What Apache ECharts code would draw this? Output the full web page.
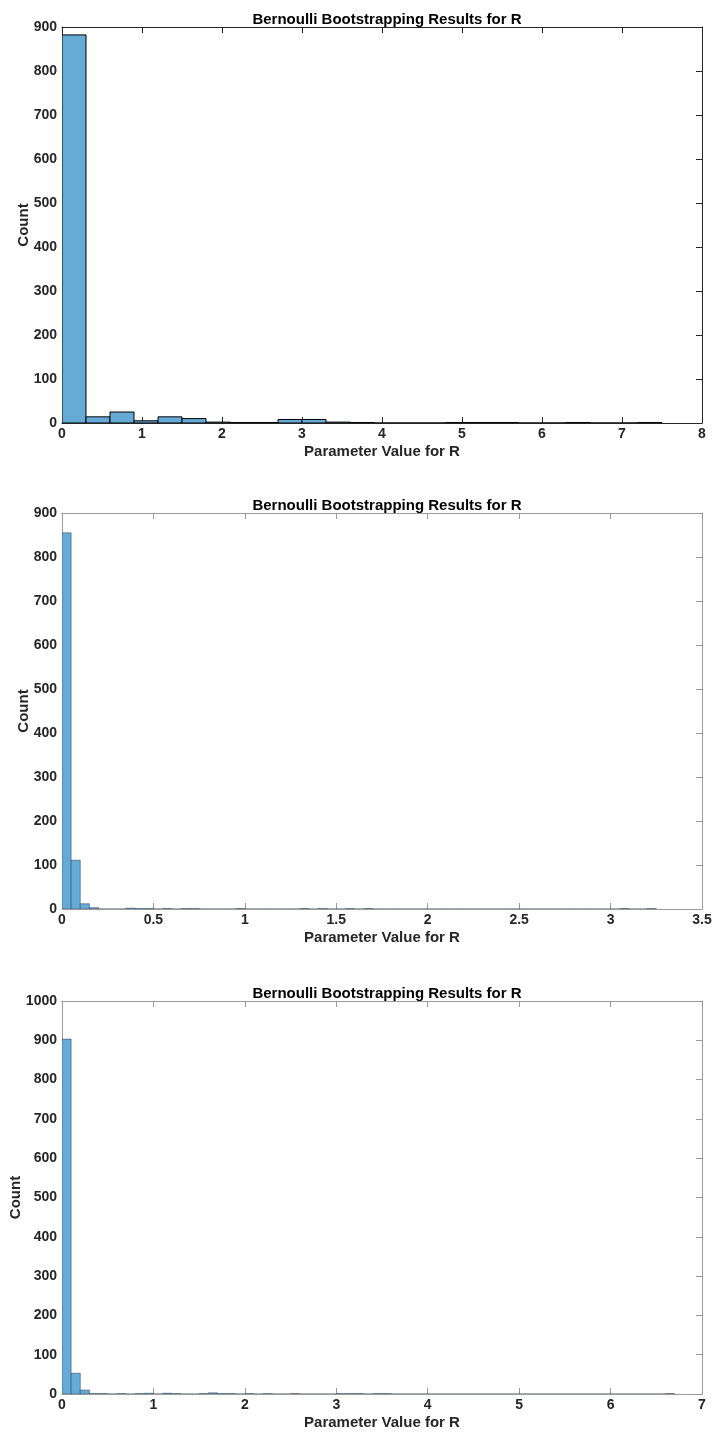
<!DOCTYPE html>
<html>
<head>
<meta charset="utf-8">
<script src="https://cdn.jsdelivr.net/npm/echarts@6/dist/echarts.min.js"></script>
<style>
html,body{margin:0;padding:0;background:#fff;}
#chart{width:714px;height:1432px;}
</style>
</head>
<body>
<div id="chart"></div>
<script>
// ---- Data ----
const titleText = 'Bernoulli Bootstrapping Results for R';
const xLabelText = 'Parameter Value for R';
const yLabelText = 'Count';

// Panel 1: bin width 0.3, starting at 0
const binWidth1 = 0.3;
const counts1 = [882, 14, 25, 5, 14, 10, 2, 1, 1, 8, 8, 2, 1, 0, 0, 0, 1, 1, 1, 0, 0, 1, 0, 0, 1];
const xTicks1 = [0, 1, 2, 3, 4, 5, 6, 7, 8];
const yTicks1 = [0, 100, 200, 300, 400, 500, 600, 700, 800, 900];

// Panel 2: bin width 0.05, starting at 0
const binWidth2 = 0.05;
const counts2 = [855, 111, 12, 3, 0, 0, 0, 2, 1, 1, 0, 1, 0, 1, 1, 0, 0, 0, 0, 1,
  0, 0, 0, 0, 0, 0, 1, 0, 1, 0, 0, 1, 0, 1, 0, 0, 0, 0, 0, 0,
  0, 0, 0, 0, 0, 0, 0, 0, 0, 0, 0, 0, 0, 0, 0, 0, 0, 0, 0, 0,
  0, 1, 0, 0, 1];
const xTicks2 = [0, 0.5, 1, 1.5, 2, 2.5, 3, 3.5];
const yTicks2 = [0, 100, 200, 300, 400, 500, 600, 700, 800, 900];

// Panel 3: bin width 0.1, starting at 0
const binWidth3 = 0.1;
const counts3 = [903, 53, 10, 1, 1, 0, 1, 0, 1, 2, 0, 2, 1, 0, 0, 1, 3, 1, 1, 0,
  1, 0, 1, 0, 0, 1, 0, 0, 0, 0, 1, 1, 1, 0, 1, 1, 0, 0, 0, 0,
  0, 0, 0, 0, 0, 0, 0, 0, 0, 0, 0, 0, 0, 0, 0, 0, 0, 0, 0, 0,
  0, 0, 0, 0, 0, 0, 1];
const xTicks3 = [0, 1, 2, 3, 4, 5, 6, 7];
const yTicks3 = [0, 100, 200, 300, 400, 500, 600, 700, 800, 900, 1000];

// ---- Build ----
const FONT = '"Liberation Sans", Arial, sans-serif';
const TXT = '#262626';
const FILL = '#66aad7';

const panels = [
  {counts: counts1, bw: binWidth1, xt: xTicks1, yt: yTicks1, top: 27, height: 396, axisColor: '#262626', stroke: '#000', lw: 1, nameGap: 31},
  {counts: counts2, bw: binWidth2, xt: xTicks2, yt: yTicks2, top: 513, height: 396, axisColor: '#9a9a9a', stroke: 'rgba(30,50,70,0.75)', lw: 0.6, nameGap: 31},
  {counts: counts3, bw: binWidth3, xt: xTicks3, yt: yTicks3, top: 1001, height: 393, axisColor: '#9a9a9a', stroke: 'rgba(30,50,70,0.75)', lw: 0.6, nameGap: 39}
];

const grid = [], xAxis = [], yAxis = [], series = [], title = [];
panels.forEach((p, i) => {
  const xmin = p.xt[0], xmax = p.xt[p.xt.length - 1];
  const ymin = p.yt[0], ymax = p.yt[p.yt.length - 1];
  const xint = p.xt[1] - p.xt[0], yint = p.yt[1] - p.yt[0];
  grid.push({left: 62, right: 12, top: p.top, height: p.height, containLabel: false, outerBoundsMode: 'none'});
  title.push({
    text: titleText, left: 382, top: p.top - 20, textAlign: 'center',
    textStyle: {fontFamily: FONT, fontSize: 15, fontWeight: 'bold', color: '#000'}
  });
  const axLine = {show: true, onZero: false, lineStyle: {color: p.axisColor, width: 1}};
  const tick = {show: true, inside: true, length: 6, lineStyle: {color: p.axisColor, width: 1}};
  // bottom x
  xAxis.push({
    type: 'value', gridIndex: i, min: xmin, max: xmax, interval: xint, position: 'bottom',
    axisLine: axLine, axisTick: tick, splitLine: {show: false},
    axisLabel: {fontFamily: FONT, fontSize: 14, fontWeight: 'bold', color: TXT, margin: 4,
      formatter: v => String(v)},
    name: xLabelText, nameLocation: 'middle', nameGap: 21, nameMoveOverlap: false,
    nameTextStyle: {fontFamily: FONT, fontSize: 15, fontWeight: 'bold', color: TXT}
  });
  // top x (box)
  xAxis.push({
    type: 'value', gridIndex: i, min: xmin, max: xmax, interval: xint, position: 'top',
    axisLine: axLine, axisTick: tick, splitLine: {show: false}, axisLabel: {show: false}
  });
  yAxis.push({
    type: 'value', gridIndex: i, min: ymin, max: ymax, interval: yint, position: 'left',
    axisLine: axLine, axisTick: tick, splitLine: {show: false},
    axisLabel: {fontFamily: FONT, fontSize: 14, fontWeight: 'bold', color: TXT, margin: 5,
      formatter: v => String(v)},
    name: yLabelText, nameLocation: 'middle', nameGap: p.nameGap, nameRotate: 90, nameMoveOverlap: false,
    nameTextStyle: {fontFamily: FONT, fontSize: 15, fontWeight: 'bold', color: TXT}
  });
  yAxis.push({
    type: 'value', gridIndex: i, min: ymin, max: ymax, interval: yint, position: 'right',
    axisLine: axLine, axisTick: tick, splitLine: {show: false}, axisLabel: {show: false}
  });
  const data = p.counts.map((c, k) => [xmin + k * p.bw, xmin + (k + 1) * p.bw, c]);
  series.push({
    type: 'custom', xAxisIndex: 2 * i, yAxisIndex: 2 * i, data: data,
    encode: {x: [0, 1], y: 2}, clip: true, silent: true,
    renderItem: (params, api) => {
      const a = api.coord([api.value(0), api.value(2)]);
      const b = api.coord([api.value(1), 0]);
      return {
        type: 'rect',
        shape: {x: a[0], y: a[1], width: b[0] - a[0], height: b[1] - a[1]},
        style: {fill: FILL, stroke: p.stroke, lineWidth: p.lw}
      };
    }
  });
});

const chart = echarts.init(document.getElementById('chart'), null, {renderer: 'canvas'});
chart.setOption({animation: false, backgroundColor: '#fff', title, grid, xAxis, yAxis, series});
</script>
</body>
</html>
